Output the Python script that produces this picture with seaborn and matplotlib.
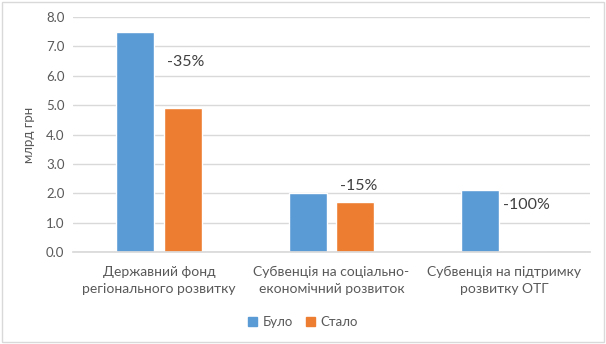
import matplotlib
matplotlib.use("Agg")
import matplotlib.pyplot as plt
import matplotlib.patches as mpatches
import seaborn as sns
import pandas as pd

categories = ["Державний фонд\nрегіонального розвитку",
              "Субвенція на соціально-\nекономічний розвиток",
              "Субвенція на підтримку\nрозвитку ОТГ"]
series_names = ["Було", "Стало"]
bulo = [7.5, 2.0, 2.1]
stalo = [4.9, 1.7, 0.0]
changes = ["-35%", "-15%", "-100%"]
change_y = [6.45, 2.25, 1.6]
change_x_offset = [0.155, 0.16, 0.13]
yticks = [0.0, 1.0, 2.0, 3.0, 4.0, 5.0, 6.0, 7.0, 8.0]

sns.set_theme(style="white")
plt.rcParams['font.family'] = ['Lato', 'Noto Sans', 'DejaVu Sans']

df = pd.DataFrame({
    "cat": categories * 2,
    "series": [series_names[0]] * 3 + [series_names[1]] * 3,
    "value": bulo + stalo,
})

colors = {"Було": "#5B9BD5", "Стало": "#ED7D31"}
text_color = "#595959"

fig = plt.figure(figsize=(6.06, 3.44), dpi=100)
ax = fig.add_axes([0.120, 0.267, 0.854, 0.684])
sns.barplot(data=df, x="cat", y="value", hue="series", palette=colors,
            width=0.55, gap=0.2, ax=ax, legend=False, saturation=1)

ax.set_ylim(0, 8)
ax.set_yticks(yticks)
ax.set_yticklabels([f"{v:.1f}" for v in yticks], color=text_color, fontsize=9.5)
ax.yaxis.grid(True, color="#D9D9D9", linewidth=1)
ax.set_axisbelow(True)
for s in ["top", "right", "left"]:
    ax.spines[s].set_visible(False)
ax.spines["bottom"].set_color("#D9D9D9")
ax.tick_params(axis="both", length=0, pad=6)
ax.set_xlabel("")
ax.set_ylabel("млрд грн", color=text_color, fontsize=9.5, labelpad=8)
ax.set_xticks(range(3))
ax.set_xticklabels(categories, color=text_color, fontsize=10, linespacing=1.5)
ax.tick_params(axis="x", pad=10)

for i, (t, y) in enumerate(zip(changes, change_y)):
    ax.text(i + change_x_offset[i], y, t, ha="center", va="center",
            fontsize=11.5, color="#404040")

handles = [mpatches.Patch(color=colors[n], label=n) for n in series_names]
leg = fig.legend(handles=handles, loc="center", bbox_to_anchor=(0.5, 0.064),
                 ncol=2, frameon=False, fontsize=9.5, handlelength=0.7,
                 handleheight=0.7, handletextpad=0.4, columnspacing=1.0)
for t in leg.get_texts():
    t.set_color(text_color)

fig.patches.append(mpatches.Rectangle((0.004, 0.006), 0.992, 0.988,
                                      transform=fig.transFigure, fill=False,
                                      edgecolor="#D9D9D9", linewidth=1))

fig.savefig("out.png", dpi=100)
